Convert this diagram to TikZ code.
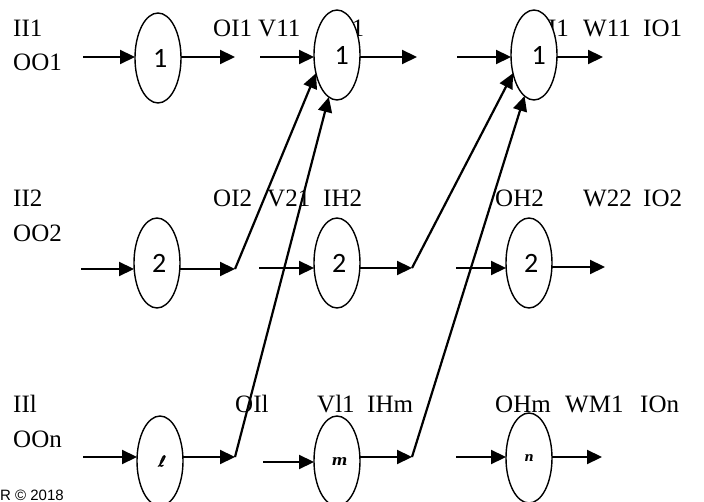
\documentclass[tikz,border=0pt]{standalone}
\usepackage{fontspec}
\usetikzlibrary{arrows.meta,shapes.geometric}
\newfontfamily\lblfont{Liberation Serif}
\newfontfamily\numfont{Carlito}
\newfontfamily\idxfont{DejaVu Serif}
\newfontfamily\ellfont{DejaVu Sans}[FakeSlant=0.2,FakeBold=2]
\newfontfamily\notefont{Liberation Sans}
\begin{document}
\begin{tikzpicture}[x=1pt,y=-1pt,
  lbl/.style={anchor=base west,inner sep=0pt,font=\lblfont\fontsize{25}{28}\selectfont},
  neuron/.style={draw,ellipse,fill=white,line width=1.4pt,minimum width=46pt,minimum height=90pt,inner sep=0pt,outer sep=0pt,font=\numfont\fontsize{28}{28}\selectfont},
  idx/.style={font=\idxfont\bfseries\itshape\fontsize{15}{15}\selectfont},
  arr/.style={line width=2.2pt,-{Triangle[length=15pt,width=14pt]}},
  link/.style={line width=2.2pt}]
\fill[white] (0,0) rectangle (704,502);
\useasboundingbox (0,0) rectangle (704,502);

% row labels
\node[lbl] (tII1) at (13,37) {II1};
\node[lbl] (tOO1) at (13,71) {OO1};
\node[lbl] (tOI1) at (213,37) {OI1};
\node[lbl] (tV11) at (258,37) {V11};
\node[lbl] (tIH1) at (325,37) {IH1};
\node[lbl] (tOH1) at (520,37) {OH1};
\node[lbl] (tW11) at (583,37) {W11};
\node[lbl] (tIO1) at (643,37) {IO1};

\node[lbl] (tII2) at (13,207) {II2};
\node[lbl] (tOO2) at (13,242) {OO2};
\node[lbl] (tOI2) at (213,207) {OI2};
\node[lbl] (tV21) at (267,207) {V21};
\node[lbl] (tIH2) at (323,207) {IH2};
\node[lbl] (tOH2) at (495,207) {OH2};
\node[lbl] (tW22) at (583,207) {W22};
\node[lbl] (tIO2) at (643,207) {IO2};

\node[lbl] (tIIl) at (13,413) {IIl};
\node[lbl] (tOOn) at (13,447) {OOn};
\node[lbl] (tOIl) at (235,413) {OIl};
\node[lbl] (tVl1) at (317,413) {Vl1};
\node[lbl] (tIHm) at (367,413) {IHm};
\node[lbl] (tOHm) at (495,413) {OHm};
\node[lbl] (tWM1) at (565,413) {WM1};
\node[lbl] (tIOn) at (640,413) {IOn};

\node[anchor=base west,inner sep=0pt,font=\notefont\fontsize{15}{15}\selectfont] (copy) at (0,500) {R © 2018};

% neurons
\node[neuron] (e11) at (158,58) {\,1};
\node[neuron] (e12) at (337,55) {\,\,1};
\node[neuron] (e13) at (534,55) {\,\,1};
\node[neuron] (e21) at (157,263) {\,2};
\node[neuron] (e22) at (337,263) {\,2};
\node[neuron] (e23) at (529,263) {\,2};
\node[neuron,font=\ellfont\fontsize{15}{15}\selectfont] (e31) at (160,461) {\,ℓ};
\node[neuron,idx] (e32) at (337,461) {\,\,m};
\node[neuron,idx,font=\idxfont\bfseries\itshape\fontsize{13}{13}\selectfont] (e33) at (529,458) {n};

% free ends of the connectors
\coordinate (i11) at (83,57);   \coordinate (o11) at (235,57);
\coordinate (i12) at (260,57);  \coordinate (o12) at (417,57);
\coordinate (i13) at (457,57);  \coordinate (o13) at (603,57);
\coordinate (i21) at (81,269);  \coordinate (o21) at (235,269);
\coordinate (i22) at (259,268); \coordinate (o22) at (412,268);
\coordinate (i23) at (456,268); \coordinate (o23) at (605,267);
\coordinate (i31) at (83,457);  \coordinate (o31) at (235,457);
\coordinate (i32) at (263,462); \coordinate (o32) at (412,457);
\coordinate (i33) at (456,457); \coordinate (o33) at (602,457);

% horizontal connectors
\foreach \r in {1,2,3}{
  \foreach \c in {1,2,3}{
    \draw[arr] (i\r\c) -- (e\r\c.west |- i\r\c);
    \draw[arr] (e\r\c.east |- o\r\c) -- (o\r\c);
  }
}

% cross connections into the first neurons of the next layer
\draw[arr] (o21) -- (e12.221);
\draw[arr] (o31) -- (e12.259);
\draw[arr] (o22) -- (e13.221);
\draw[arr] (o32) -- (e13.257);
\end{tikzpicture}
\end{document}
